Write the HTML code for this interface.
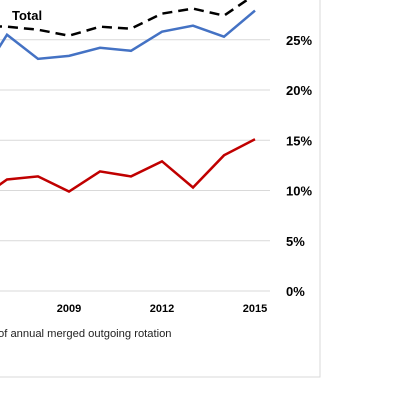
<!DOCTYPE html>
<html><head><meta charset="utf-8"><style>
html,body{margin:0;padding:0;background:#fff;width:400px;height:400px;overflow:hidden}
svg{display:block;font-family:"Liberation Sans",Calibri,sans-serif}
</style></head><body>
<svg id="chart" width="400" height="400">
<rect x="-5" y="-5" width="325" height="382" fill="#fff" stroke="#d9d9d9" stroke-width="1"/>
<g id="grid"></g>
<g id="lines"></g>
<g id="labels"></g>
<text x="12" y="20" font-size="13" font-weight="bold" fill="#000">Total</text>
<text x="-2" y="337" font-size="11.2" fill="#222">of annual merged outgoing rotation</text>
</svg>
<script>
const years=[2006,2007,2008,2009,2010,2011,2012,2013,2014,2015];
const totalVals=[26.4,26.3,26.0,25.4,26.3,26.1,27.6,28.1,27.4,29.5];
const blueVals=[20.6,25.5,23.1,23.4,24.2,23.9,25.8,26.4,25.3,27.9];
const redVals=[8.9,11.1,11.4,9.9,11.9,11.4,12.9,10.3,13.5,15.1];
const yTicks=[0,5,10,15,20,25];
const xTickYears=[2009,2012,2015];
const NS="http://www.w3.org/2000/svg";
const xs=y=>69+(y-2009)*31;
const ys=v=>291-v*10.05;
const grid=document.getElementById('grid'),lines=document.getElementById('lines'),labels=document.getElementById('labels');
yTicks.forEach(t=>{
  const l=document.createElementNS(NS,'line');
  l.setAttribute('x1',0);l.setAttribute('x2',270);l.setAttribute('y1',ys(t));l.setAttribute('y2',ys(t));
  l.setAttribute('stroke','#d9d9d9');l.setAttribute('stroke-width','1');
  
  
  grid.appendChild(l);
  const tx=document.createElementNS(NS,'text');
  tx.setAttribute('x',286);tx.setAttribute('y',ys(t)+5);tx.setAttribute('font-size','13');tx.setAttribute('font-weight','bold');
  tx.textContent=t+'%';
  
  
  labels.appendChild(tx);
});
xTickYears.forEach(y=>{
  const tx=document.createElementNS(NS,'text');
  tx.setAttribute('x',xs(y));tx.setAttribute('y',312);tx.setAttribute('font-size','11');tx.setAttribute('font-weight','bold');tx.setAttribute('text-anchor','middle');
  tx.textContent=y;
  
  
  labels.appendChild(tx);
});
function series(vals,color,dash,name){
  const p=document.createElementNS(NS,'polyline');
  p.setAttribute('points',vals.map((v,i)=>xs(years[i])+','+ys(v)).join(' '));
  p.setAttribute('fill','none');p.setAttribute('stroke',color);p.setAttribute('stroke-width','2.5');
  if(dash)p.setAttribute('stroke-dasharray',dash);
  
  
  lines.appendChild(p);
}
series(blueVals,'#4472c4',null,'blue-series-line');
series(redVals,'#c00000',null,'red-series-line');
series(totalVals,'#000',"10,6",'total-series-line');
</script>
</body></html>
